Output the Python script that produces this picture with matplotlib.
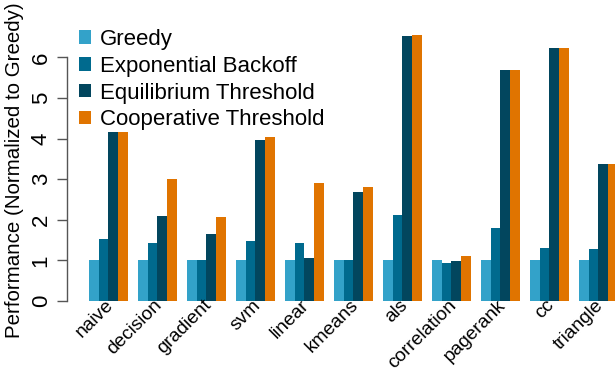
import matplotlib
matplotlib.use('Agg')
import matplotlib.pyplot as plt
import numpy as np

plt.rcParams['font.family'] = ['Liberation Sans', 'DejaVu Sans']

# Benchmarks and per-policy performance, normalized to the greedy policy
benchmarks = ['naive', 'decision', 'gradient', 'svm', 'linear', 'kmeans',
              'als', 'correlation', 'pagerank', 'cc', 'triangle']
series_names = ['Greedy', 'Exponential Backoff', 'Equilibrium Threshold',
                'Cooperative Threshold']
greedy = [1, 1, 1, 1, 1, 1, 1, 1, 1, 1, 1]
exp_backoff = [1.53, 1.44, 1.0, 1.49, 1.42, 1.02, 2.13, 0.93, 1.79, 1.30, 1.27]
eq_threshold = [4.16, 2.09, 1.66, 3.96, 1.07, 2.68, 6.53, 0.99, 5.69, 6.23, 3.37]
coop_threshold = [4.16, 3.00, 2.08, 4.04, 2.90, 2.82, 6.56, 1.12, 5.69, 6.23, 3.37]
yticks = [0, 1, 2, 3, 4, 5, 6]

colors = ['#33a2c9', '#006a8e', '#02465e', '#e07400']

W, H = 615, 368
fig = plt.figure(figsize=(W / 100, H / 100), dpi=100)

# axes box in pixels: left spine at x=67, baseline at y=301
x0, y0 = 67, 301
ax = fig.add_axes([x0 / W, (H - y0) / H, 1 - x0 / W, y0 / H])

px_per_unit_x = 9.8
px_per_unit_y = 40.6
first_left = 88.7
xmin = 1 - (first_left - x0) / px_per_unit_x
ax.set_xlim(xmin, xmin + (W - x0) / px_per_unit_x)
ax.set_ylim(0, y0 / px_per_unit_y)

all_series = [greedy, exp_backoff, eq_threshold, coop_threshold]
group_start = 1 + 5 * np.arange(len(benchmarks))
for k, (vals, col, name) in enumerate(zip(all_series, colors, series_names)):
    ax.bar(group_start + k, vals, width=1.0, align='edge', color=col,
           linewidth=0, label=name)

for s in ['top', 'right', 'bottom']:
    ax.spines[s].set_visible(False)
ax.spines['left'].set_bounds(0, 6)
ax.spines['left'].set_color('#555555')
ax.spines['left'].set_linewidth(1.0)

ax.set_yticks(yticks)
ax.set_yticklabels([str(t) for t in yticks], rotation=90, va='center',
                   fontsize=16)
ax.tick_params(axis='y', length=7, width=1.0, color='#555555', pad=4)

# rotated group labels, right end anchored just under each group
ax.set_xticks([])
for gx, name in zip(group_start + 2, benchmarks):
    ax.text(gx + 0.25, -0.04, name, rotation=45, ha='right', va='center',
            rotation_mode='anchor', fontsize=13.8, clip_on=False)

fig.text(15 / W, 1 - 170 / H, 'Performance (Normalized to Greedy)',
         rotation=90, ha='center', va='center', fontsize=14.8)

leg = ax.legend(loc='upper left', bbox_to_anchor=(79 / W, 1 - 29 / H),
                bbox_transform=fig.transFigure, frameon=False, fontsize=16,
                handlelength=0.55, handleheight=0.55, handletextpad=0.4,
                labelspacing=0.26, borderaxespad=0, borderpad=0)

fig.savefig('out.png', dpi=100)
